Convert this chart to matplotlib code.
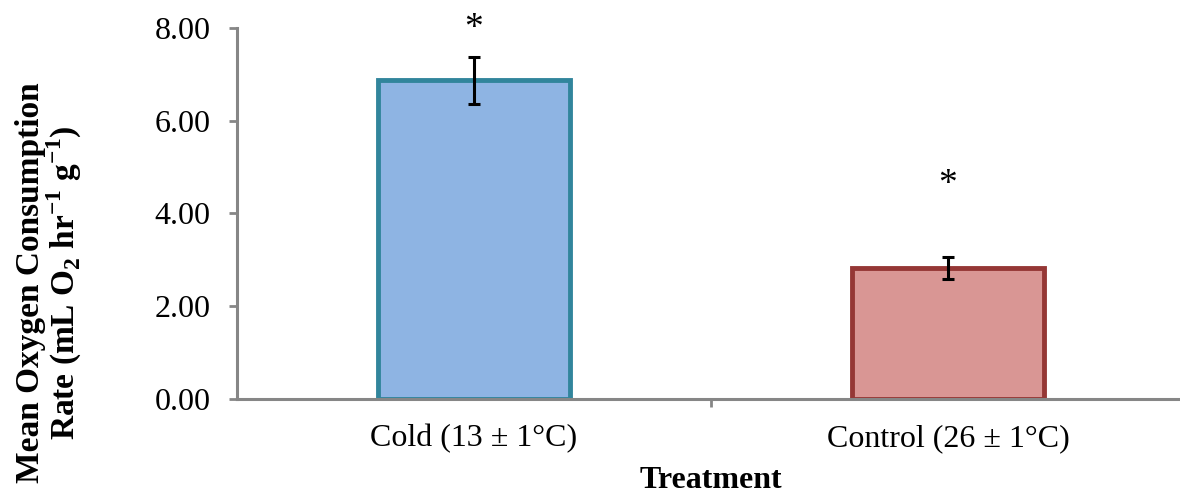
import numpy as np
import matplotlib
matplotlib.use("Agg")
import matplotlib.pyplot as plt

# Data
treatments = ["Cold (13 \u00b1 1\u00b0C)", "Control (26 \u00b1 1\u00b0C)"]
mean_rate = [6.87, 2.83]
sem_rate = [0.50, 0.24]
star_height = [7.98, 4.62]   # where the significance asterisks sit
y_ticks = [0, 2, 4, 6, 8]

fill_colors = ["#8EB4E3", "#D99694"]
edge_colors = ["#31859C", "#953735"]
axis_gray = "#868686"

plt.rcParams["font.family"] = ["Liberation Serif", "DejaVu Serif"]
plt.rcParams["mathtext.fontset"] = "custom"
plt.rcParams["mathtext.rm"] = "Liberation Serif"
plt.rcParams["mathtext.bf"] = "Liberation Serif:bold"

fig = plt.figure(figsize=(11.8, 4.96), dpi=100)
ax = fig.add_axes([0.2008, 0.1956, 0.8034, 0.748])

x = np.arange(len(treatments))
ax.bar(x, mean_rate, width=0.405, color=fill_colors, edgecolor=edge_colors,
       linewidth=3.5, zorder=2)
ax.errorbar(x, mean_rate, yerr=sem_rate, fmt="none", ecolor="black",
            elinewidth=2.2, capsize=4.5, capthick=2.2, zorder=3)
for xi, sy in zip(x, star_height):
    ax.text(xi, sy, "*", ha="center", va="center", fontsize=27)

ax.set_xlim(-0.5, 1.5)
ax.set_ylim(0, 8)
ax.set_yticks(y_ticks)
ax.set_yticklabels([f"{v:.2f}" for v in y_ticks], fontsize=23)
ax.set_xticks(x)
ax.set_xticklabels(treatments, fontsize=23)
ax.set_xticks([0.5], minor=True)
ax.tick_params(axis="x", which="major", length=0, pad=18)
ax.tick_params(axis="x", which="minor", length=6, width=2, color=axis_gray)
ax.tick_params(axis="y", length=6, width=2, color=axis_gray, pad=13)

for side in ["top", "right"]:
    ax.spines[side].set_visible(False)
for side in ["left", "bottom"]:
    ax.spines[side].set_color(axis_gray)
    ax.spines[side].set_linewidth(2.2)
ax.spines["bottom"].set_zorder(4)

fig.text(0.6025, 0.032, "Treatment", ha="center", va="center",
         fontsize=23, fontweight="bold")
fig.text(0.042, 0.431,
         "Mean Oxygen Consumption\n"
         r"Rate (mL O$_\mathbf{2}$ hr$^\mathbf{-1}$ g$^\mathbf{-1}$)",
         rotation=90, ha="center", va="center", multialignment="center",
         fontsize=24, fontweight="bold", linespacing=0.95)

fig.savefig("out.png", dpi=100)
